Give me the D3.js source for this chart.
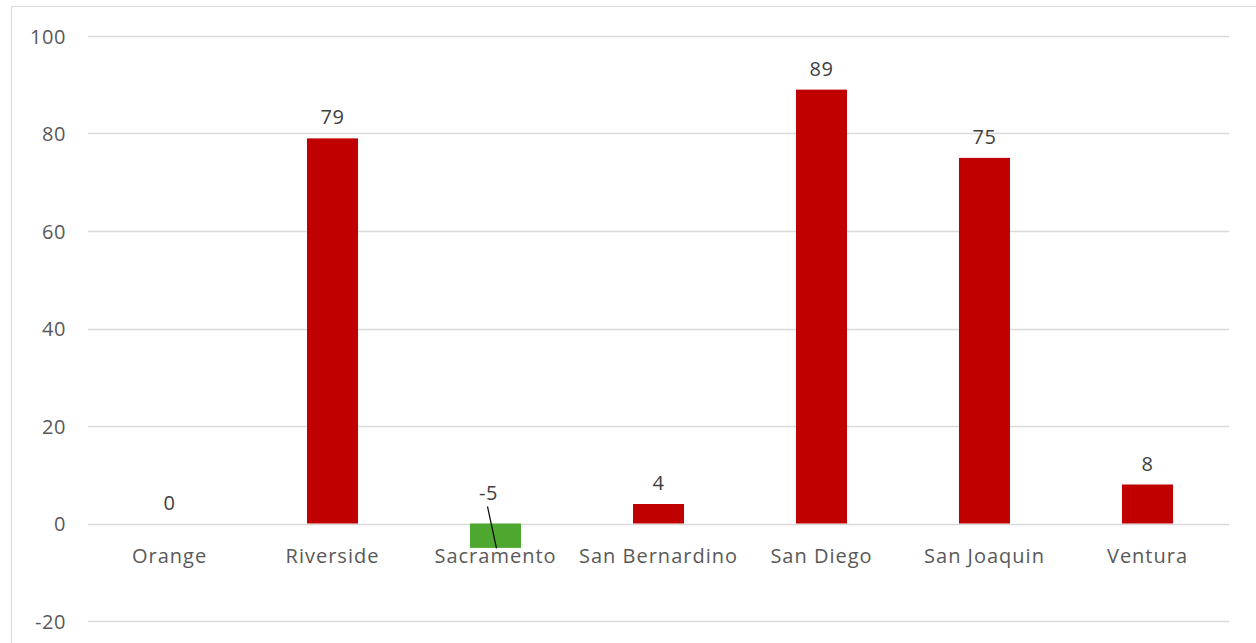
<!DOCTYPE html>
<html><head><meta charset="utf-8">
<script src="https://cdn.jsdelivr.net/npm/d3@7"></script>
<style>body{margin:0;background:#fff;}svg{display:block;font-family:"Open Sans",sans-serif;}</style>
</head><body>
<svg id="c" width="1256" height="643"></svg>
<script>
const categories = ["Orange","Riverside","Sacramento","San Bernardino","San Diego","San Joaquin","Ventura"];
const values = [0,79,-5,4,89,75,8];
const yTicks = [-20,0,20,40,60,80,100];

const FONT = "'Open Sans',sans-serif";
const svg = d3.select("#c");
// chart frame
svg.append("rect").attr("x",11.5).attr("y",6.5).attr("width",1300).attr("height",700)
  .attr("fill","none").attr("stroke","#d9d9d9").attr("stroke-width",1);

const x = d3.scaleBand().domain(categories).range([88,1229]).paddingInner(0.687).paddingOuter(0.3435);
const y = d3.scaleLinear().domain([-20,100]).range([621,36]);

// gridlines
svg.append("g").selectAll("line").data(yTicks).join("line")
  .attr("x1",88).attr("x2",1229).attr("y1",d=>Math.round(y(d))+0.5).attr("y2",d=>Math.round(y(d))+0.5)
  .attr("stroke","#d9d9d9").attr("stroke-width",1.5);

// y axis labels
const yAxis = d3.axisLeft(y).tickValues(yTicks).tickSize(0).tickPadding(0).tickFormat(d=>String(d));
const gy = svg.append("g").attr("transform","translate(66,0)").call(yAxis);
gy.select(".domain").remove();
gy.selectAll("text").attr("font-size",20).attr("fill","#595959").attr("font-family",FONT)
  .attr("letter-spacing","0.6px").attr("dy","0.36em");

// bars
svg.append("g").selectAll("rect").data(values).join("rect")
  .attr("x",(d,i)=>x(categories[i]))
  .attr("width",x.bandwidth())
  .attr("y",d=>y(Math.max(0,d)))
  .attr("height",d=>Math.abs(y(d)-y(0)))
  .attr("fill",d=>d<0?"#4ea72e":"#c00000");

// x axis labels
const xAxis = d3.axisBottom(x).tickSize(0).tickPadding(0);
const gx = svg.append("g").attr("transform",`translate(0,${y(0)})`).call(xAxis);
gx.select(".domain").remove();
gx.selectAll("text").attr("font-size",20).attr("fill","#595959").attr("font-family",FONT)
  .attr("letter-spacing","1px").attr("dy",null).attr("y",39);

// data labels
const lab = svg.append("g");
values.forEach((v,i)=>{
  const cx = x(categories[i]) + x.bandwidth()/2;
  if (v < 0) {
    lab.append("text").attr("x",cx-7).attr("y",y(0)-24).attr("text-anchor","middle")
      .attr("font-size",20).attr("letter-spacing","0.6px").attr("fill","#404040").text(v);
    lab.append("line").attr("x1",cx-8).attr("y1",y(0)-17).attr("x2",cx+1).attr("y2",y(v)+0.5)
      .attr("stroke","#000").attr("stroke-width",1.2);
  } else {
    lab.append("text").attr("x",cx).attr("y",y(v)-14).attr("text-anchor","middle")
      .attr("font-size",20).attr("letter-spacing","0.6px").attr("fill","#404040").text(v);
  }
});
</script>
</body></html>
